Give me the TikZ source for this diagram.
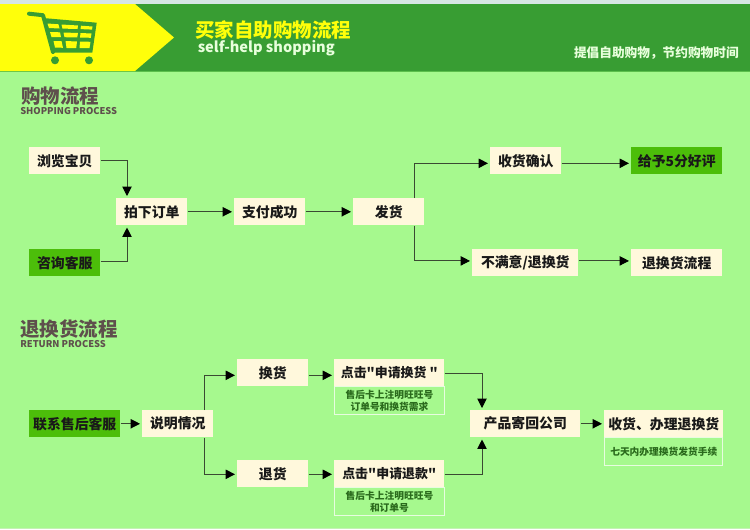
\documentclass[tikz,border=0pt]{standalone}
\usepackage{fontspec}
\setmainfont{Noto Sans CJK SC}
\newfontfamily\qfont{Noto Sans CJK SC}
\usetikzlibrary{arrows.meta,calc}
\definecolor{bgg}{HTML}{A6F98E}
\definecolor{band}{HTML}{389D33}
\definecolor{bandedge}{HTML}{5CBF4C}
\definecolor{topst}{HTML}{D6E6E4}
\definecolor{botst}{HTML}{C4F2B4}
\definecolor{yel}{HTML}{FFFF0A}
\definecolor{cream}{HTML}{FFF8DC}
\definecolor{gbox}{HTML}{4CBE0A}
\definecolor{title}{HTML}{5E4F4C}
\definecolor{subt}{HTML}{2A6A1C}
\definecolor{subedge}{HTML}{E8FCE0}
\definecolor{linec}{HTML}{3A4A32}
\definecolor{softw}{HTML}{E8FFDC}
\newcommand{\fs}[1]{\fontsize{#1}{#1}\selectfont}
\tikzset{
  x=0.75pt,y=-0.75pt,
  boxbase/.style={minimum height=20.25pt,inner sep=0pt,anchor=north west,font=\fs{10.4}\bfseries,text=black!90},
  cbox/.style={boxbase,fill=cream},
  gnode/.style={boxbase,fill=gbox},
  subbox/.style={anchor=north west,inner sep=0pt,draw=subedge,line width=0.6pt,fill=bgg,align=center,font=\fs{7.3}\bfseries,text=subt},
  conn/.style={draw=linec,line width=0.7pt,-{Triangle[length=7pt,width=7pt,color=black]},shorten >=1.5pt},
  titletxt/.style={anchor=west,inner sep=0pt,text=title,font=\fs{14.6}\bfseries},
  entxt/.style={anchor=west,inner sep=0pt,text=title,font=\fs{7}\bfseries},
  cartline/.style={draw=band,line cap=round,line join=round},
}
\begin{document}
\begin{tikzpicture}
\useasboundingbox (0,0) rectangle (750,529);
\fill[bgg] (0,0) rectangle (750,529);
\fill[botst] (0,527.8) rectangle (750,529);
\fill[topst] (0,0) rectangle (750,4);
\fill[band] (0,4) rectangle (750,71);
\fill[bandedge] (0,70.6) rectangle (750,71.4);
\fill[yel] (0,4) -- (135,4) -- (174,37.5) -- (135,71) -- (0,71) -- cycle;
% cart
\fill[band] (43,18) -- (96.7,22.7) -- (92.3,52.7) -- (53.3,52.7) -- cycle;
\draw[cartline,line width=3pt] (29,13.7) -- (43,15.2) -- (53,52);
\fill[yel] (47.5,23.5) -- (58.5,24.3) -- (59.5,28.5) -- (49,28) -- cycle;
\fill[yel] (61.5,24.5) -- (78,25.5) -- (77.5,29) -- (62.5,28.6) -- cycle;
\fill[yel] (81,25.7) -- (92.5,26.5) -- (92,29.6) -- (80.5,29.1) -- cycle;
\fill[yel] (50,32) -- (60,32.3) -- (61,37) -- (51.5,37) -- cycle;
\fill[yel] (63.5,32.5) -- (78,33) -- (77.2,37.5) -- (64.5,37.2) -- cycle;
\fill[yel] (80.5,33) -- (91.5,33.5) -- (90.8,37.8) -- (80,37.5) -- cycle;
\fill[yel] (53.5,41) -- (61.5,41) -- (63,47.8) -- (55,47.5) -- cycle;
\fill[yel] (65.5,41) -- (77,41.5) -- (76.2,48) -- (66.5,48) -- cycle;
\fill[yel] (80,41.5) -- (90.5,41.8) -- (89.5,48) -- (79.5,48) -- cycle;
\fill[band] (55,60.3) circle[radius=4];
\fill[band] (89,60.3) circle[radius=4];
% header text
\node[anchor=west,inner sep=0pt,text=yel,font=\fs{14.6}\bfseries] (h1) at (195,30) {买家自助购物流程};
\node[anchor=west,inner sep=0pt,text=softw,font=\fs{10.95}\bfseries] (h2) at (197.5,48) {self-help shopping};
\node[anchor=east,inner sep=0pt,text=softw,font=\fs{9.5}\bfseries] (h3) at (739,53.5) {提倡自助购物，节约购物时间};
% section titles
\node[titletxt] (t1) at (21,96) {购物流程};
\node[entxt] (t1e) at (20,111.5) {SHOPPING PROCESS};
\node[titletxt] (t2) at (20,329) {退换货流程};
\node[entxt] (t2e) at (20,344.5) {RETURN PROCESS};
% upper boxes
\node[cbox,minimum width=53.25pt] (a1) at (29,147) {浏览宝贝};
\node[gnode,minimum width=53.25pt] (a2) at (29,249) {咨询客服};
\node[cbox,minimum width=53.25pt] (b) at (116,198) {拍下订单};
\node[cbox,minimum width=53.25pt] (c) at (234,198) {支付成功};
\node[cbox,minimum width=53.25pt] (d) at (353,198) {发货};
\node[cbox,minimum width=53.25pt] (e) at (490,147) {收货确认};
\node[gnode,minimum width=68.25pt] (f) at (631,147) {给予5分好评};
\node[cbox,minimum width=79.5pt] (g) at (472,249) {不满意/退换货};
\node[cbox,minimum width=68.25pt] (h) at (631,249) {退换货流程};
% lower boxes
\node[gnode,minimum width=68.25pt] (p) at (29,410) {联系售后客服};
\node[cbox,minimum width=53.25pt] (q) at (142,410) {说明情况};
\node[cbox,minimum width=53.25pt] (r1) at (237,359) {换货};
\node[cbox,minimum width=53.25pt] (r2) at (237,460) {退货};
\node[subbox,minimum width=82pt,minimum height=21pt] (s1b) at (334.4,386) {售后卡上注明旺旺号\\[1.6pt]订单号和换货需求};
\node[cbox,minimum width=82.5pt] (s1) at (334,359) {\qfont\fs{9.7}\bfseries 点击"申请换货 "};
\node[subbox,minimum width=82pt,minimum height=21pt] (s2b) at (334.4,487) {售后卡上注明旺旺号\\[1.6pt]和订单号};
\node[cbox,minimum width=82.5pt] (s2) at (334,460) {\qfont\fs{9.7}\bfseries 点击"申请退款"};
\node[cbox,minimum width=82.5pt] (t) at (470,410) {产品寄回公司};
\node[subbox,minimum width=88.5pt,minimum height=21pt] (ub) at (604.4,437) {七天内办理换货发货手续};
\node[cbox,minimum width=89.25pt] (u) at (604,410) {收货、办理退换货};
% upper connectors
\draw[conn] (a1.east) -| ([xshift=8.25pt]b.north west);
\draw[conn] ([yshift=1.3pt]a2.east) -| ([xshift=8.25pt]b.south west);
\draw[conn] (b) -- (c);
\draw[conn] (c) -- (d);
\draw[conn] ([xshift=-7.5pt]d.north east) |- ([yshift=-1.9pt]e.west);
\draw[conn] ([yshift=-1.9pt]e.east) -- ([yshift=-1.9pt]f.west);
\draw[conn] ([xshift=-7.5pt]d.south east) |- ([yshift=1.4pt]g.west);
\draw[conn] ([yshift=1.4pt]g.east) -- ([yshift=1.4pt]h.west);
% lower connectors
\draw[conn] (p) -- (q);
\draw[conn] ([xshift=-6.75pt]q.north east) |- ([yshift=-1.9pt]r1.west);
\draw[conn] ([xshift=-6.75pt]q.south east) |- ([yshift=-0.4pt]r2.west);
\draw[conn] ([yshift=-1.9pt]r1.east) -- ([yshift=-1.9pt]s1.west);
\draw[conn] ([yshift=-0.4pt]r2.east) -- ([yshift=-0.4pt]s2.west);
\draw[conn] ([yshift=-0.4pt]s1.east) -| ([xshift=9pt]t.north west);
\draw[conn] ([yshift=-0.4pt]s2.east) -| ([xshift=9pt]t.south west);
\draw[conn] (t) -- (u);
\end{tikzpicture}
\end{document}
